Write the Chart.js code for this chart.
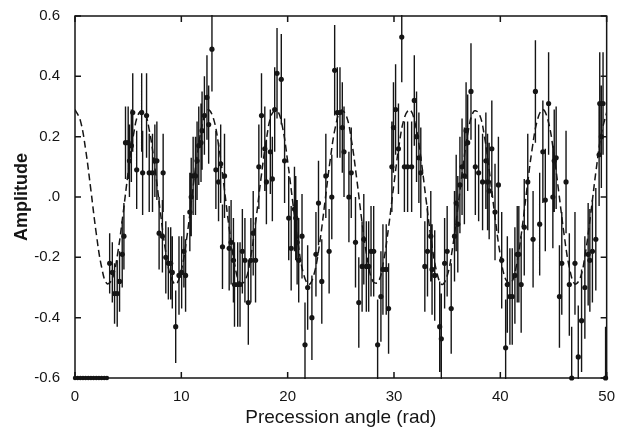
<!DOCTYPE html>
<html>
<head>
<meta charset="utf-8">
<script src="https://cdn.jsdelivr.net/npm/chart.js@4.4.0/dist/chart.umd.min.js"></script>
<style>
    body { margin: 0; background: #fff; }
</style>
</head>
<body>
<canvas id="myChart1" width="617" height="433"></canvas>
<script>
// measured points (precession angle in rad, amplitude, error)
var angles = [
    3.26, 3.51, 3.72, 3.97, 4.19, 4.44, 4.60, 4.75, 5.00, 5.12,
    5.30, 5.43, 5.80, 6.27, 6.36, 6.73, 6.98, 7.29, 7.51, 7.70,
    7.91, 8.22, 8.29, 8.54, 8.78, 9.00, 9.15, 9.47, 9.78, 10.03,
    10.24, 10.40, 10.80, 10.93, 11.11, 11.33, 11.48, 11.64, 11.85, 11.95,
    12.17, 12.41, 12.57, 12.88, 13.25, 13.50, 13.70, 13.87, 14.06, 14.50,
    14.68, 14.90, 15.00, 15.30, 15.52, 15.74, 15.98, 16.30, 16.54, 16.76,
    16.98, 17.29, 17.54, 17.85, 18.00, 18.37, 18.56, 18.78, 19.00, 19.40,
    19.71, 20.10, 20.33, 20.64, 20.76, 20.89, 21.04, 21.35, 21.63, 21.88,
    22.28, 22.66, 22.90, 23.21, 23.59, 23.90, 24.15, 24.42, 24.67, 24.92,
    25.14, 25.30, 25.76, 25.98, 26.38, 26.69, 27.00, 27.16, 27.40, 27.62,
    27.84, 28.09, 28.46, 28.77, 28.96, 29.27, 29.49, 29.80, 29.95, 30.15,
    30.42, 30.73, 30.98, 31.28, 31.66, 31.91, 32.12, 32.34, 32.52, 32.90,
    33.15, 33.46, 33.58, 33.83, 34.30, 34.45, 34.76, 35.00, 35.38, 35.69,
    35.85, 36.00, 36.20, 36.40, 36.62, 36.78, 36.93, 37.24, 37.65, 37.96,
    38.33, 38.64, 38.80, 38.95, 39.20, 39.50, 39.82, 40.13, 40.50, 40.66,
    40.90, 41.12, 41.37, 41.59, 41.74, 41.96, 42.25, 42.58, 43.08, 43.30,
    43.70, 44.00, 44.23, 44.54, 44.94, 45.07, 45.25, 45.56, 45.78, 46.18,
    46.49, 46.71, 47.02, 47.33, 47.64, 47.95, 48.26, 48.42, 48.66, 48.98,
    49.29, 49.35, 49.50, 49.66, 49.90
];
var amps = [
    -0.22, -0.25, -0.32, -0.32, -0.28, -0.19, -0.13, 0.18, 0.18, 0.12,
    0.17, 0.28, 0.09, 0.28, 0.08, 0.27, 0.08, 0.08, 0.12, 0.12,
    -0.12, -0.13, 0.08, -0.20, -0.22, -0.22, -0.25, -0.43, -0.26, -0.25,
    -0.18, -0.26, -0.05, 0.00, 0.07, 0.07, 0.12, 0.17, 0.18, 0.22,
    0.27, 0.33, 0.24, 0.49, 0.09, 0.05, 0.11, -0.165, 0.07, -0.17,
    -0.15, -0.21, -0.29, -0.29, -0.29, -0.18, -0.21, -0.35, -0.21, -0.12,
    -0.21, 0.10, 0.27, 0.16, 0.05, 0.15, 0.06, 0.29, 0.41, 0.39,
    0.12, -0.07, -0.17, -0.04, -0.07, -0.15, -0.21, -0.13, -0.49, -0.30,
    -0.40, -0.19, -0.02, -0.28, 0.07, -0.18, 0.00, 0.42, 0.28, 0.28,
    0.23, 0.15, 0.00, 0.08, -0.15, -0.35, -0.23, -0.14, -0.23, -0.23,
    -0.18, -0.18, -0.49, -0.33, -0.24, -0.24, -0.37, 0.10, 0.23, 0.29,
    0.16, 0.53, 0.10, 0.10, 0.10, 0.32, 0.20, 0.13, 0.08, -0.23,
    -0.18, -0.13, -0.24, -0.26, -0.43, -0.47, -0.22, -0.18, -0.37, -0.13,
    -0.02, -0.09, 0.04, 0.10, 0.07, 0.22, 0.18, 0.35, 0.10, 0.08,
    0.05, 0.12, 0.05, 0.02, 0.16, -0.05, 0.04, -0.21, -0.50, -0.29,
    -0.33, -0.33, -0.26, -0.19, -0.19, -0.29, -0.10, 0.05, -0.14, 0.35,
    -0.09, 0.15, -0.01, 0.31, 0.00, 0.12, 0.13, -0.33, -0.22, 0.05,
    -0.29, -0.60, -0.22, -0.53, -0.41, -0.30, -0.19, -0.21, -0.18, -0.14,
    0.14, 0.31, 0.20, 0.31, -0.60
];
var errs = [
    0.10, 0.10, 0.10, 0.11, 0.10, 0.11, 0.11, 0.12, 0.12, 0.12,
    0.12, 0.13, 0.13, 0.13, 0.14, 0.14, 0.13, 0.13, 0.12, 0.13,
    0.12, 0.12, 0.13, 0.12, 0.12, 0.12, 0.12, 0.12, 0.13, 0.12,
    0.12, 0.12, 0.13, 0.13, 0.13, 0.13, 0.13, 0.13, 0.13, 0.13,
    0.13, 0.14, 0.13, 0.14, 0.13, 0.13, 0.13, 0.14, 0.14, 0.14,
    0.14, 0.14, 0.14, 0.14, 0.14, 0.14, 0.14, 0.14, 0.14, 0.14,
    0.14, 0.14, 0.14, 0.14, 0.14, 0.14, 0.14, 0.14, 0.15, 0.15,
    0.14, 0.14, 0.14, 0.14, 0.14, 0.14, 0.14, 0.14, 0.14, 0.14,
    0.14, 0.14, 0.14, 0.14, 0.14, 0.14, 0.14, 0.15, 0.15, 0.15,
    0.15, 0.15, 0.15, 0.15, 0.15, 0.15, 0.15, 0.15, 0.15, 0.15,
    0.15, 0.15, 0.15, 0.15, 0.15, 0.15, 0.15, 0.15, 0.15, 0.15,
    0.15, 0.15, 0.15, 0.15, 0.15, 0.15, 0.15, 0.15, 0.15, 0.15,
    0.15, 0.15, 0.15, 0.15, 0.15, 0.15, 0.15, 0.15, 0.15, 0.15,
    0.16, 0.16, 0.16, 0.16, 0.16, 0.16, 0.16, 0.16, 0.16, 0.16,
    0.16, 0.16, 0.16, 0.16, 0.16, 0.16, 0.16, 0.16, 0.16, 0.16,
    0.16, 0.16, 0.16, 0.16, 0.16, 0.16, 0.16, 0.16, 0.16, 0.17,
    0.17, 0.17, 0.17, 0.17, 0.17, 0.17, 0.17, 0.17, 0.17, 0.17,
    0.17, 0.17, 0.17, 0.17, 0.17, 0.17, 0.17, 0.17, 0.17, 0.17,
    0.17, 0.17, 0.17, 0.17, 0.17
];
// empty bins at the start, sitting on the bottom edge
var emptyAngles = [0, 0.25, 0.5, 0.75, 1.0, 1.25, 1.5, 1.75, 2.0, 2.25, 2.5, 2.75, 3.0];
var emptyAmps = [-0.6, -0.6, -0.6, -0.6, -0.6, -0.6, -0.6, -0.6, -0.6, -0.6, -0.6, -0.6, -0.6];
var fitAngles = [
    0, 0.5, 1, 1.5, 2, 2.5, 3, 3.5, 4, 4.5, 5, 5.5, 6, 6.5, 7, 7.5, 8, 8.5, 9, 9.5,
    10, 10.5, 11, 11.5, 12, 12.5, 13, 13.5, 14, 14.5, 15, 15.5, 16, 16.5, 17, 17.5, 18, 18.5, 19, 19.5,
    20, 20.5, 21, 21.5, 22, 22.5, 23, 23.5, 24, 24.5, 25, 25.5, 26, 26.5, 27, 27.5, 28, 28.5, 29, 29.5,
    30, 30.5, 31, 31.5, 32, 32.5, 33, 33.5, 34, 34.5, 35, 35.5, 36, 36.5, 37, 37.5, 38, 38.5, 39, 39.5,
    40, 40.5, 41, 41.5, 42, 42.5, 43, 43.5, 44, 44.5, 45, 45.5, 46, 46.5, 47, 47.5, 48, 48.5, 49, 49.5,
    50
];
var fitAmps = [
    0.290, 0.254, 0.157, 0.021, -0.121, -0.232, -0.287, -0.272, -0.190, -0.061,
    0.082, 0.206, 0.278, 0.283, 0.219, 0.101, -0.042, -0.175, -0.264, -0.289,
    -0.243, -0.138, 0.001, 0.140, 0.245, 0.289, 0.263, 0.173, 0.040, -0.103,
    -0.220, -0.284, -0.278, -0.204, -0.080, 0.064, 0.191, 0.274, 0.287, 0.234,
    0.118, -0.023, -0.159, -0.256, -0.290, -0.253, -0.155, -0.018, 0.123, 0.234,
    0.287, 0.271, 0.188, 0.059, -0.085, -0.207, -0.279, -0.283, -0.217, -0.098,
    0.045, 0.177, 0.265, 0.289, 0.242, 0.136, -0.004, -0.142, -0.246, -0.290,
    -0.262, -0.170, -0.037, 0.105, 0.222, 0.284, 0.277, 0.202, 0.077, -0.066,
    -0.193, -0.273, -0.286, -0.230, -0.116, 0.026, 0.161, 0.257, 0.290, 0.252,
    0.152, 0.015, -0.125, -0.235, -0.288, -0.270, -0.186, -0.056, 0.087, 0.209,
    0.280
];
var xTicks = [0, 10, 20, 30, 40, 50];
var yTicks = [-0.6, -0.4, -0.2, 0, 0.2, 0.4, 0.6];

var ink = '#151515';

function pairs(xs, ys) {
    var out = [];
    for (var n = 0; n < xs.length; n++) {
        out.push({ x: xs[n], y: ys[n] });
    }
    return out;
}

// vertical error bars, clipped to the plot box
var errorBars = {
    id: 'errorBars',
    beforeDatasetsDraw: function (chart) {
        var ctx = chart.ctx, a = chart.chartArea;
        var sx = chart.scales.x, sy = chart.scales.y;
        ctx.save();
        ctx.beginPath();
        ctx.rect(a.left, a.top - 1, a.right - a.left, a.bottom - a.top + 2);
        ctx.clip();
        ctx.strokeStyle = ink;
        ctx.lineWidth = 1.4;
        ctx.beginPath();
        for (var n = 0; n < angles.length; n++) {
            var px = sx.getPixelForValue(angles[n]);
            ctx.moveTo(px, sy.getPixelForValue(amps[n] + errs[n]));
            ctx.lineTo(px, sy.getPixelForValue(amps[n] - errs[n]));
        }
        ctx.stroke();
        ctx.restore();
    }
};

// box frame with inward tick marks on all four sides
var frame = {
    id: 'frame',
    afterDraw: function (chart) {
        var ctx = chart.ctx, a = chart.chartArea;
        var sx = chart.scales.x, sy = chart.scales.y;
        ctx.save();
        ctx.strokeStyle = ink;
        ctx.lineWidth = 1.5;
        ctx.strokeRect(a.left, a.top, a.right - a.left, a.bottom - a.top);
        ctx.beginPath();
        xTicks.forEach(function (v) {
            var px = sx.getPixelForValue(v);
            ctx.moveTo(px, a.bottom); ctx.lineTo(px, a.bottom - 6);
            ctx.moveTo(px, a.top); ctx.lineTo(px, a.top + 6);
        });
        yTicks.forEach(function (v) {
            var py = sy.getPixelForValue(v);
            ctx.moveTo(a.left, py); ctx.lineTo(a.left + 6, py);
            ctx.moveTo(a.right, py); ctx.lineTo(a.right - 6, py);
        });
        ctx.stroke();
        ctx.restore();
    }
};

var ctx = document.getElementById('myChart1').getContext('2d');
var thisChart = new Chart(ctx, {
    type: 'scatter',
    data: {
        datasets: [{
            label: 'data',
            data: pairs(angles, amps),
            pointRadius: 2.6,
            pointBackgroundColor: ink,
            pointBorderColor: ink,
            pointBorderWidth: 0,
            clip: false
        }, {
            label: 'empty',
            data: pairs(emptyAngles, emptyAmps),
            pointRadius: 2.2,
            pointBackgroundColor: ink,
            pointBorderColor: ink,
            pointBorderWidth: 0,
            clip: false
        }, {
            label: 'fit',
            data: pairs(fitAngles, fitAmps),
            showLine: true,
            pointRadius: 0,
            borderColor: ink,
            borderWidth: 1.5,
            borderDash: [7, 4],
            tension: 0.4,
            fill: false
        }]
    },
    options: {
        responsive: false,
        animation: false,
        layout: { padding: { left: 0, right: 8, top: 15, bottom: 0 } },
        plugins: {
            legend: { display: false },
            tooltip: { enabled: false }
        },
        scales: {
            x: {
                type: 'linear',
                min: 0,
                max: 50,
                grid: { display: false },
                border: { display: false },
                afterBuildTicks: function (scale) {
                    scale.ticks = xTicks.map(function (v) { return { value: v }; });
                },
                ticks: {
                    color: ink,
                    font: { family: 'Liberation Sans', size: 15 },
                    padding: 2,
                    maxRotation: 0
                },
                title: {
                    display: true,
                    text: 'Precession angle (rad)',
                    color: ink,
                    font: { family: 'Liberation Sans', size: 19 },
                    padding: { top: 0, bottom: 4 }
                },
                afterFit: function (scale) { scale.height = 55; }
            },
            y: {
                type: 'linear',
                min: -0.6,
                max: 0.6,
                grid: { display: false },
                border: { display: false },
                afterBuildTicks: function (scale) {
                    scale.ticks = yTicks.map(function (v) { return { value: v }; });
                },
                ticks: {
                    color: ink,
                    font: { family: 'Liberation Sans', size: 15 },
                    padding: 7,
                    callback: function (v) {
                        if (Math.abs(v) < 1e-9) return '.0';
                        return v.toFixed(1);
                    }
                },
                title: {
                    display: true,
                    text: 'Amplitude',
                    color: ink,
                    font: { family: 'Liberation Sans', size: 18, weight: 'bold' },
                    padding: { top: 11, bottom: 0 }
                },
                afterFit: function (scale) { scale.width = 75; }
            }
        }
    },
    plugins: [errorBars, frame]
});
</script>
</body>
</html>
